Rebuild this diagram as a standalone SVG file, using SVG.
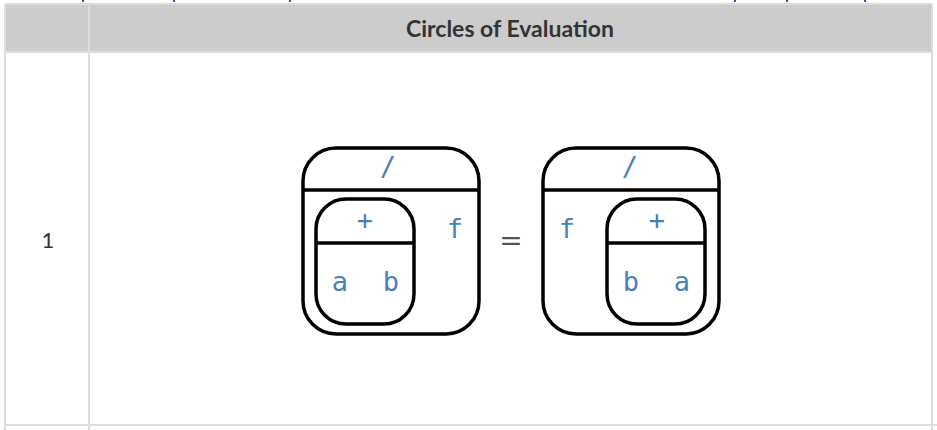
<svg xmlns="http://www.w3.org/2000/svg" width="937" height="430" viewBox="0 0 937 430">
<style>
.grid{stroke:#dddddd;stroke-width:2;fill:none}
.box{fill:none;stroke:#000;stroke-width:3.5}
.code{font-family:"DejaVu Sans Mono",monospace;font-size:27px;fill:#4a80b8;text-anchor:middle}
.head{font-family:Lato,"Liberation Sans",sans-serif;font-weight:bold;font-size:23px;fill:#333;text-anchor:middle}
.cell{font-family:Lato,"Liberation Sans",sans-serif;font-size:22px;fill:#333;text-anchor:middle}
</style>
<rect width="937" height="430" fill="#fff"/>
<g id="table">
<rect x="6" y="4" width="925" height="48" fill="#cccccc"/>
<line class="grid" x1="5" y1="4" x2="932" y2="4"/>
<line class="grid" x1="5" y1="52" x2="932" y2="52"/>
<line class="grid" x1="5" y1="425" x2="937" y2="425"/>
<line class="grid" x1="5" y1="4" x2="5" y2="430"/>
<line class="grid" x1="89" y1="4" x2="89" y2="430"/>
<line class="grid" x1="932" y1="4" x2="932" y2="430"/>
<text class="head" x="510" y="37">Circles of Evaluation</text>
<text class="cell" x="48" y="248">1</text>
<g fill="#7b2fa0">
<rect x="82" y="0" width="2" height="2"/>
<rect x="173" y="0" width="2" height="2"/>
<rect x="289" y="0" width="2" height="2"/>
<rect x="734" y="0" width="2" height="2"/>
<rect x="786" y="0" width="2" height="2"/>
<rect x="864" y="0" width="2" height="2"/>
</g>
</g>
<g id="left-circle">
<rect class="box" x="303" y="148" width="176" height="186" rx="33"/>
<line class="box" x1="303" y1="190" x2="479" y2="190"/>
<text class="code" x="388" y="176">/</text>
<text class="code" x="455" y="238">f</text>
</g>
<g id="left-inner">
<rect class="box" x="316" y="199" width="98" height="125" rx="30"/>
<line class="box" x1="316" y1="243" x2="414" y2="243"/>
<text class="code" x="365" y="229">+</text>
<text class="code" x="340" y="291">a</text>
<text class="code" x="391" y="291">b</text>
</g>
<g id="equals">
<text x="511" y="250" font-family="'DejaVu Serif',serif" font-size="28" fill="#555" text-anchor="middle">=</text>
</g>
<g id="right-circle">
<rect class="box" x="543" y="148" width="176" height="186" rx="33"/>
<line class="box" x1="543" y1="190" x2="719" y2="190"/>
<text class="code" x="630" y="176">/</text>
<text class="code" x="567" y="238">f</text>
</g>
<g id="right-inner">
<rect class="box" x="607" y="199" width="98" height="125" rx="30"/>
<line class="box" x1="607" y1="243" x2="705" y2="243"/>
<text class="code" x="657" y="229">+</text>
<text class="code" x="631" y="291">b</text>
<text class="code" x="682" y="291">a</text>
</g>
</svg>
